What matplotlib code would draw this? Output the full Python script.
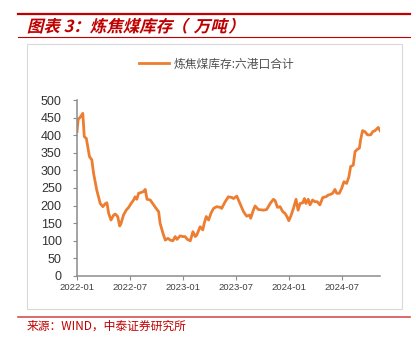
import matplotlib
matplotlib.use("Agg")
import matplotlib.pyplot as plt
import matplotlib.dates as mdates
import pandas as pd
from matplotlib.lines import Line2D
from matplotlib.patches import Rectangle, PathPatch
from matplotlib.textpath import TextPath
from matplotlib.font_manager import FontProperties
from matplotlib.transforms import Affine2D

plt.rcParams["font.family"] = ["Liberation Sans", "Noto Sans CJK SC", "DejaVu Sans"]

# 炼焦煤库存:六港口合计 (万吨), weekly
dates = [
    "2022-01-01", "2022-01-05", "2022-01-12", "2022-01-17", "2022-01-21", "2022-01-26",
    "2022-02-02", "2022-02-06", "2022-02-13", "2022-02-21", "2022-02-27", "2022-03-10",
    "2022-03-22", "2022-03-31", "2022-04-08", "2022-04-14", "2022-04-20", "2022-04-28",
    "2022-05-07", "2022-05-13", "2022-05-21", "2022-05-28", "2022-06-01", "2022-06-10",
    "2022-06-20", "2022-06-28", "2022-07-06", "2022-07-15", "2022-07-20", "2022-07-26",
    "2022-08-01", "2022-08-09", "2022-08-18", "2022-08-24", "2022-08-30", "2022-09-10",
    "2022-09-22", "2022-10-03", "2022-10-09", "2022-10-14", "2022-10-24", "2022-11-01",
    "2022-11-10", "2022-11-18", "2022-11-27", "2022-12-05", "2022-12-11", "2022-12-22",
    "2022-12-31", "2023-01-08", "2023-01-16", "2023-01-26", "2023-02-04", "2023-02-12",
    "2023-02-17", "2023-03-01", "2023-03-10", "2023-03-15", "2023-03-22", "2023-03-30",
    "2023-04-07", "2023-04-16", "2023-04-27", "2023-05-09", "2023-05-14", "2023-05-26",
    "2023-06-06", "2023-06-18", "2023-06-24", "2023-07-05", "2023-07-16", "2023-07-28",
    "2023-08-08", "2023-08-18", "2023-08-22", "2023-08-31", "2023-09-06", "2023-09-17",
    "2023-10-05", "2023-10-16", "2023-10-28", "2023-11-08", "2023-11-14", "2023-11-22",
    "2023-12-01", "2023-12-10", "2023-12-18", "2023-12-26", "2023-12-31", "2024-01-07",
    "2024-01-16", "2024-01-25", "2024-02-01", "2024-02-08", "2024-02-17", "2024-02-23",
    "2024-02-28", "2024-03-07", "2024-03-13", "2024-03-22", "2024-03-30", "2024-04-07",
    "2024-04-16", "2024-04-26", "2024-05-07", "2024-05-15", "2024-05-23", "2024-05-30",
    "2024-06-07", "2024-06-13", "2024-06-22", "2024-06-30", "2024-07-08", "2024-07-17",
    "2024-07-25", "2024-07-31", "2024-08-09", "2024-08-15", "2024-08-23", "2024-08-30",
    "2024-09-03", "2024-09-10", "2024-09-18", "2024-09-27", "2024-10-08", "2024-10-15",
    "2024-10-23", "2024-10-28", "2024-11-03", "2024-11-09",
]
stock = [
    410, 445, 451, 457, 462, 396,
    391, 372, 339, 330, 292, 244,
    206, 197, 205, 208, 178, 159,
    173, 176, 169, 142, 148, 173,
    188, 195, 206, 216, 225, 218,
    235, 237, 240, 246, 218, 216,
    202, 189, 183, 150, 121, 102,
    107, 102, 100, 112, 104, 114,
    112, 112, 104, 100, 126, 112,
    116, 140, 131, 150, 169, 159,
    178, 192, 197, 195, 192, 211,
    225, 223, 220, 227, 206, 183,
    170, 173, 164, 187, 199, 189,
    187, 189, 206, 218, 214, 195,
    197, 183, 178, 167, 157, 170,
    192, 218, 187, 206, 208, 220,
    206, 218, 202, 216, 211, 211,
    202, 223, 225, 230, 232, 235,
    246, 235, 235, 249, 268, 263,
    282, 311, 315, 353, 360, 363,
    386, 413, 410, 401, 401, 410,
    413, 417, 422, 413,
]
x_ticks = ["2022-01-01", "2022-07-01", "2023-01-01", "2023-07-01", "2024-01-01", "2024-07-01"]
y_ticks = [0, 50, 100, 150, 200, 250, 300, 350, 400, 450, 500]

# title pieces with the left edge (px) of each
title_parts = ["图表 3：", "炼焦煤库存", "（", "万吨", "）"]
title_left = [28, 90, 182, 194, 229]
series_name = "炼焦煤库存:六港口合计"
source = "来源：WIND，中泰证券研究所"

W, H = 416, 343
RED = "#C00000"
ORANGE = "#ED7D31"

dt = pd.to_datetime(dates)

fig = plt.figure(figsize=(W / 100, H / 100), dpi=100)
fig.patch.set_facecolor("white")

def fx(px):
    return px / W

def fy(py):
    return 1 - py / H

# header / footer rules
fig.add_artist(Line2D([fx(18), fx(410)], [fy(14)] * 2, color=RED, lw=1.6))
fig.add_artist(Line2D([fx(18), fx(410)], [fy(37)] * 2, color=RED, lw=0.8))
fig.add_artist(Line2D([fx(18), fx(410)], [fy(317)] * 2, color="#D55050", lw=1.2))

# slanted bold title drawn as paths
fp = FontProperties(family="Noto Sans CJK SC", weight="bold")
for part, left in zip(title_parts, title_left):
    tp = TextPath((0, 0), part, size=16.5, prop=fp)
    x0 = tp.get_extents().x0
    tr = Affine2D().skew_deg(14, 0).translate(left - x0, H - 32)
    fig.add_artist(PathPatch(tp, transform=tr, facecolor=RED, edgecolor="none"))

# chart frame
fig.add_artist(Rectangle((fx(27), fy(309)), fx(402) - fx(27), fy(44) - fy(309),
                         transform=fig.transFigure, fill=False,
                         edgecolor="#D9D9D9", lw=0.8))

ax = fig.add_axes([fx(77), fy(276), fx(380) - fx(77), fy(100) - fy(276)])
ax.plot(dt, stock, color=ORANGE, lw=2.0, label=series_name, solid_joinstyle="round")

ax.set_xlim(dt[0], dt[-1])
ax.set_ylim(0, 500)
ax.set_yticks(y_ticks)
ax.set_xticks(pd.to_datetime(x_ticks))
ax.xaxis.set_major_formatter(mdates.DateFormatter("%Y-%m"))

for s in ["top", "right"]:
    ax.spines[s].set_visible(False)
for s in ["left", "bottom"]:
    ax.spines[s].set_color("#8C8C8C")
    ax.spines[s].set_linewidth(1.1)

ax.tick_params(axis="y", length=3, width=0.8, color="#8C8C8C", pad=8,
               labelsize=9, labelcolor="#333333")
ax.tick_params(axis="x", length=3, width=0.8, color="#8C8C8C", pad=2,
               labelsize=6.8, labelcolor="#404040")

fig.legend(loc="center", bbox_to_anchor=(fx(217), fy(64)), frameon=False,
           handlelength=2.5, handletextpad=0.45,
           prop=FontProperties(family=["Noto Sans CJK SC", "DejaVu Sans"], size=8.5),
           labelcolor="#505050")

fig.text(fx(27), fy(326), source, color=RED, fontsize=8.5, va="center",
         family=["Noto Sans CJK SC", "DejaVu Sans"])

fig.savefig("out.png", dpi=100)
